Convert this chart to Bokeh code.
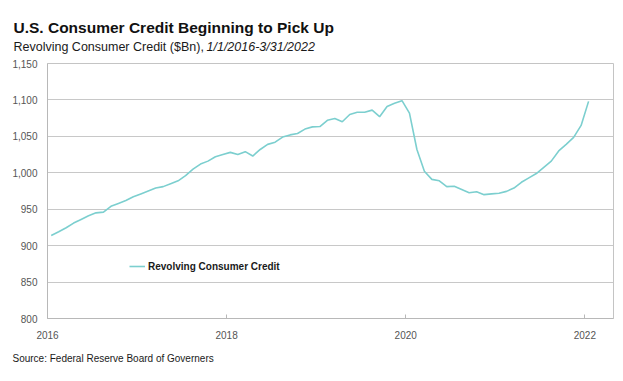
import pandas as pd
from bokeh.plotting import figure
from bokeh.models import (Label, Legend, FixedTicker, NumeralTickFormatter, Range1d)
from bokeh.embed import file_html
from bokeh.resources import INLINE

# Monthly revolving consumer credit ($Bn), Jan 2016 - Jan 2022
months = pd.date_range("2016-01-01", periods=73, freq="MS")
revolving = [
    914, 919, 924.5, 931, 936, 941, 945, 946, 954, 958, 962, 967,
    971, 975, 979, 981, 985, 989, 996, 1005, 1012, 1016, 1022, 1025,
    1028, 1025, 1029, 1023, 1032, 1039, 1042, 1049, 1052, 1054, 1060, 1063,
    1063.5, 1072, 1074.5, 1070, 1080, 1083, 1083, 1086, 1077, 1091, 1095.5, 1099,
    1082, 1032, 1002, 991, 989, 981, 981.5, 977, 972.5, 974, 970, 971,
    972, 974.5, 979, 987, 993, 999, 1007.5, 1016, 1030, 1039, 1048.5, 1065,
    1098,
]
x_ticks = [2016, 2018, 2020, 2022]
y_ticks = [800, 850, 900, 950, 1000, 1050, 1100, 1150]
series_name = "Revolving Consumer Credit"
title_text = "U.S. Consumer Credit Beginning to Pick Up"
subtitle_text = "Revolving Consumer Credit ($Bn), "
subtitle_italic = "1/1/2016-3/31/2022"
source_text = "Source: Federal Reserve Board of Governers"

xs = [d.year + (d.month - 0.5) / 12 for d in months]

SANS = "'Liberation Sans', Arial, sans-serif"
W = 615


def text_strip(height):
    f = figure(width=W, height=height, output_backend="svg", toolbar_location=None,
               x_range=Range1d(0, W), y_range=Range1d(0, height), min_border=0)
    f.axis.visible = False
    f.grid.visible = False
    f.outline_line_color = None
    f.background_fill_color = "white"
    f.border_fill_color = "white"
    return f


# --- header: title + subtitle ---
header = text_strip(55)
header.add_layout(Label(x=13, y=28, text=title_text, text_font=SANS,
                        text_font_style="bold", text_font_size="15.5px",
                        text_color="#111111", text_baseline="alphabetic"))
header.add_layout(Label(x=13, y=9, text=subtitle_text, text_font=SANS,
                        text_font_size="12.5px", text_color="#1a1a1a",
                        text_baseline="alphabetic"))
header.add_layout(Label(x=206, y=9, text=subtitle_italic, text_font=SANS,
                        text_font_style="italic", text_font_size="12.5px",
                        text_color="#1a1a1a", text_baseline="alphabetic"))

# --- main chart ---
p = figure(width=W, height=295, output_backend="svg", toolbar_location=None,
           x_range=Range1d(2016, 2022.32), y_range=Range1d(800, 1150),
           min_border_left=47, min_border_right=2, min_border_top=8,
           min_border_bottom=32)
p.background_fill_color = "white"
p.border_fill_color = "white"
p.outline_line_color = "#c4c4c4"
p.outline_line_width = 1

r = p.line(xs, revolving, line_color="#7ccfcf", line_width=1.6)

p.xgrid.visible = False
p.ygrid.grid_line_color = "#c8c8c8"
p.ygrid.grid_line_width = 1.2
p.ygrid.ticker = FixedTicker(ticks=y_ticks)

p.xaxis.ticker = FixedTicker(ticks=x_ticks)
p.xaxis.formatter = NumeralTickFormatter(format="0")
p.yaxis.ticker = FixedTicker(ticks=y_ticks)
p.yaxis.formatter = NumeralTickFormatter(format="0,0")

for ax in (p.xaxis[0], p.yaxis[0]):
    ax.axis_line_color = "#b8b8b8"
    ax.major_label_text_font = SANS
    ax.major_label_text_font_size = "10px"
    ax.major_label_text_color = "#555555"
    ax.minor_tick_line_color = None
p.xaxis.major_tick_in = 4
p.xaxis.major_tick_out = 0
p.xaxis.major_tick_line_color = "#b8b8b8"
p.xaxis.major_label_standoff = 12
p.yaxis.major_tick_line_color = None
p.yaxis.major_tick_in = 0
p.yaxis.major_tick_out = 0
p.yaxis.major_label_standoff = 10

legend = Legend(items=[(series_name, [r])], location=(82, 42),
                label_text_font=SANS, label_text_font_style="bold",
                label_text_font_size="10px", label_text_color="#1a1a1a",
                glyph_width=16, glyph_height=20, label_standoff=3,
                padding=0, margin=0, border_line_color=None,
                background_fill_alpha=0)
p.add_layout(legend, "center")

# --- footer: source ---
footer = text_strip(16)
footer.add_layout(Label(x=12, y=8, text=source_text, text_font=SANS,
                        text_font_size="10px", text_color="#1a1a1a",
                        text_baseline="alphabetic"))

open("out.html", "w").write(file_html([header, p, footer], INLINE))
